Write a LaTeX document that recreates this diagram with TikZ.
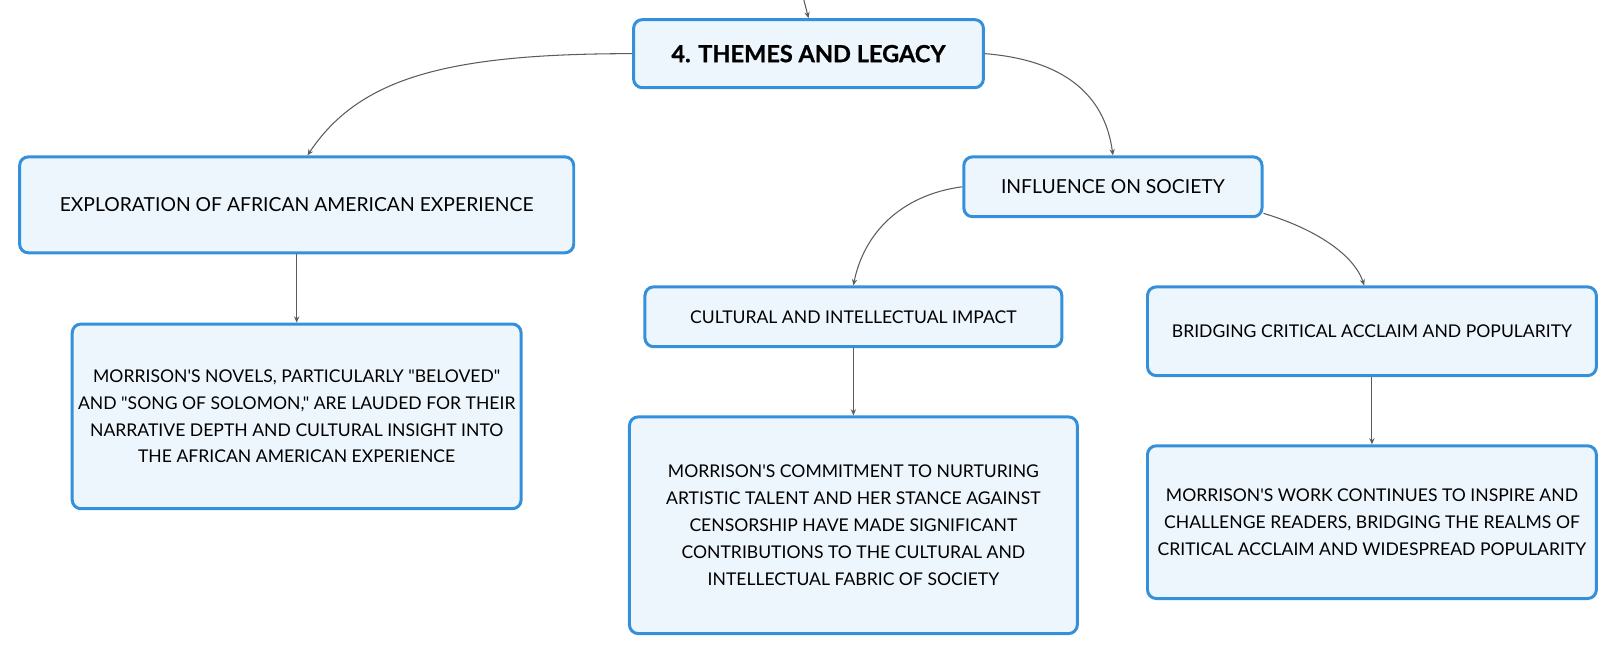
\documentclass[tikz,border=0pt]{standalone}
\usepackage{fontspec}
\setmainfont{Lato}[Ligatures=TeXOff]
\usetikzlibrary{arrows.meta}

\definecolor{boxfill}{HTML}{EEF6FD}
\definecolor{boxedge}{HTML}{3590DC}
\definecolor{linkgray}{HTML}{5C5C5C}

\newcommand{\MMu}{0.02064cm}

\begin{document}
\begin{tikzpicture}[x=\MMu,y=-\MMu,
	box/.style={draw=boxedge,fill=boxfill,line width=1.7pt,rounded corners=5pt,align=center,inner sep=0pt},
	rootbox/.style={box,font=\fontsize{13.4}{15}\selectfont\bfseries\addfontfeatures{FakeBold=0.8}},
	topic/.style={box,font=\fontsize{11}{15.3}\selectfont},
	subtopic/.style={box,font=\fontsize{10}{15.3}\selectfont},
	leaf/.style={box,font=\fontsize{10}{15.3}\selectfont},
	link/.style={draw=linkgray,line width=0.6pt,-{Stealth[length=3.5pt,width=3pt]}}]

	\useasboundingbox (0,0) rectangle (1567,636);

	%The root
	\node[rootbox,minimum width=339*\MMu,minimum height=66*\MMu] (root) at (783.5,52) {4. THEMES AND LEGACY};
	\coordinate (up) at (779,0);

	%The left branch
	\node[topic,minimum width=537*\MMu,minimum height=93*\MMu] (explo) at (287.5,198.5) {EXPLORATION OF AFRICAN AMERICAN EXPERIENCE};
	\node[leaf,minimum width=435*\MMu,minimum height=179*\MMu] (novels) at (287.5,403.5)
		{MORRISON'S NOVELS, PARTICULARLY "BELOVED"\\AND "SONG OF SOLOMON," ARE LAUDED FOR THEIR\\NARRATIVE DEPTH AND CULTURAL INSIGHT INTO\\THE AFRICAN AMERICAN EXPERIENCE};

	%The right branch
	\node[topic,minimum width=289*\MMu,minimum height=58*\MMu] (infl) at (1078.5,181) {INFLUENCE ON SOCIETY};
	\node[subtopic,minimum width=404*\MMu,minimum height=58*\MMu] (cult) at (827,307) {CULTURAL AND INTELLECTUAL IMPACT};
	\node[leaf,minimum width=434*\MMu,minimum height=210*\MMu] (commit) at (827,509)
		{MORRISON'S COMMITMENT TO NURTURING\\ARTISTIC TALENT AND HER STANCE AGAINST\\CENSORSHIP HAVE MADE SIGNIFICANT\\CONTRIBUTIONS TO THE CULTURAL AND\\INTELLECTUAL FABRIC OF SOCIETY};
	\node[subtopic,minimum width=435*\MMu,minimum height=86*\MMu] (bridge) at (1329.5,321) {BRIDGING CRITICAL ACCLAIM AND POPULARITY};
	\node[leaf,minimum width=435*\MMu,minimum height=148*\MMu] (work) at (1329.5,506)
		{MORRISON'S WORK CONTINUES TO INSPIRE AND\\CHALLENGE READERS, BRIDGING THE REALMS OF\\CRITICAL ACCLAIM AND WIDESPREAD POPULARITY};

	%The connectors
	\draw[link] (up) -- (root.north);
	\draw[link] (root.west) .. controls +(-180,0) and +(50,-75) .. ([xshift=10.5*\MMu]explo.north);
	\draw[link] (root.east) .. controls +(75,6) and +(-8,-60) .. (infl.north);
	\draw[link] (infl.west) .. controls +(-60,8) and +(10,-50) .. (cult.north);
	\draw[link] (infl.-10) .. controls +(50,15) and +(-10,-30) .. ([xshift=-7.5*\MMu]bridge.north);
	\draw[link] (explo.south) -- (novels.north);
	\draw[link] (cult.south) -- (commit.north);
	\draw[link] (bridge.south) -- (work.north);

\end{tikzpicture}
\end{document}
